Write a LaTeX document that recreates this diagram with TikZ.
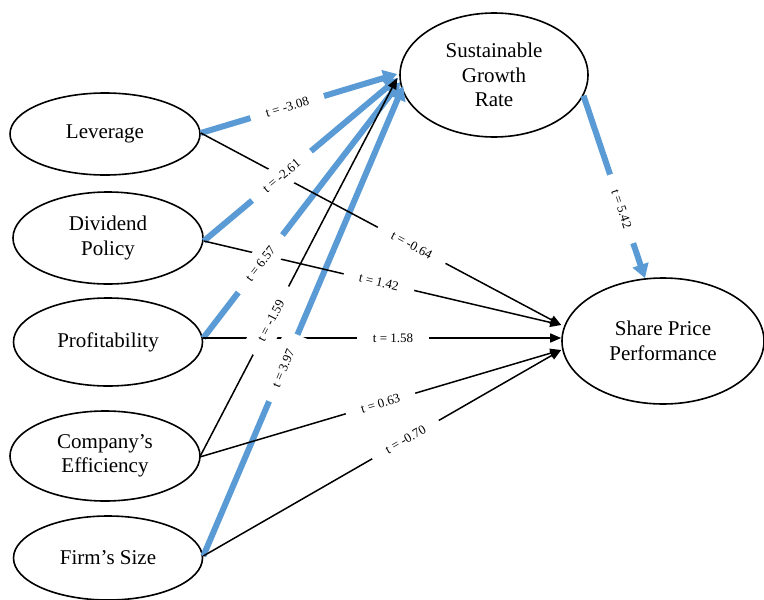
\documentclass[tikz,border=0pt]{standalone}
\usepackage{fontspec}
\setmainfont{Liberation Serif}
\usetikzlibrary{shapes.geometric,arrows.meta,calc}
\definecolor{lblue}{HTML}{5B9BD5}
\begin{document}
\begin{tikzpicture}[x=1pt,y=-1pt,
  var/.style={draw, ellipse, line width=1.6pt, inner sep=0pt, align=center, font=\fontsize{21}{24.5}\selectfont},
  barrow/.style={draw=lblue, line width=6pt, -{Triangle[length=14pt,width=16pt]}},
  karrow/.style={draw=black, line width=1.5pt, -{Triangle[length=11pt,width=9pt]}},
  tlab/.style={fill=white, sloped, inner xsep=16pt, inner ysep=9pt, font=\fontsize{13}{15}\selectfont}
]
\useasboundingbox (0,0) rectangle (764,600);

% variables
\node[var, minimum width=190pt, minimum height=82pt] (lev) at (105,134) {Leverage};
\node[var, minimum width=190pt, minimum height=92pt] (div) at (108,238) {Dividend\\Policy};
\node[var, minimum width=189pt, minimum height=88pt] (prof) at (108,342) {Profitability};
\node[var, minimum width=190pt, minimum height=90pt] (comp) at (105,456) {Company’s\\Efficiency};
\node[var, minimum width=189pt, minimum height=84pt] (firm) at (108,558) {Firm’s Size};
\node[var, minimum width=188pt, minimum height=124pt] (sgr) at (494,75) {Sustainable\\Growth\\Rate};
\node[var, minimum width=202pt, minimum height=126pt] (spp) at (663,341) {Share Price\\Performance};

% attachment points
\coordinate (levS) at ($(lev.east)+(0,-1)$);
\coordinate (divS) at ($(div.east)+(0,3)$);
\coordinate (profS) at ($(prof.east)+(0,-4)$);
\coordinate (compS) at ($(comp.east)+(-1,1)$);
\coordinate (firmS) at ($(firm.east)+(0,-2)$);

\coordinate (gA) at ($(sgr.west)+(-2,-1)$);
\coordinate (gB) at ($(sgr.west)+(-1,3)$);
\coordinate (gC) at ($(sgr.west)+(1,7)$);
\coordinate (gD) at ($(sgr.west)+(4,11)$);
\coordinate (gK) at ($(sgr.west)+(-2,3)$);

\coordinate (pA) at ($(spp.west)+(0,-16)$);
\coordinate (pB) at ($(spp.west)+(0,-3)$);
\coordinate (pC) at ($(spp.west)+(0,9)$);

% blue paths
\draw[barrow] (levS) -- (gA);
\draw[barrow] (divS) -- (gB);
\draw[barrow] (profS) -- (gC);
\draw[barrow] (firmS) -- (gD);
\draw[barrow] (sgr.-13) -- (spp.106);

% black paths
\draw[karrow] (compS) -- (gK);
\draw[karrow] (levS) -- (pA);
\draw[karrow] (divS) -- (pA);
\draw[karrow] (profS) -- (pB);
\draw[karrow] (compS) -- (pC);
\draw[karrow] (firmS) -- (pC);

% labels
\path (levS) -- (gA) node[tlab, pos=0.44] (l1) {t = -3.08};
\path (divS) -- (gB) node[tlab, pos=0.40] (l2) {t = -2.61};
\path (profS) -- (gC) node[tlab, pos=0.29] (l3) {t = 6.57};
\path (firmS) -- (gD) node[tlab, pos=0.40] (l4) {t = 3.97};
\path (sgr.-13) -- (spp.106) node[tlab, pos=0.62] (l5) {t = 5.42};
\path (compS) -- (gK) node[tlab, pos=0.36] (l6) {t = -1.59};
\path (levS) -- (pA) node[tlab, pos=0.585] (l7) {t = -0.64};
\path (divS) -- (pA) node[tlab, pos=0.49] (l8) {t = 1.42};
\path (profS) -- (pB) node[tlab, pos=0.53] (l9) {t = 1.58};
\path (compS) -- (pC) node[tlab, pos=0.50] (l10) {t = 0.63};
\path (firmS) -- (pC) node[tlab, pos=0.565] (l11) {t = -0.70};
\end{tikzpicture}
\end{document}
